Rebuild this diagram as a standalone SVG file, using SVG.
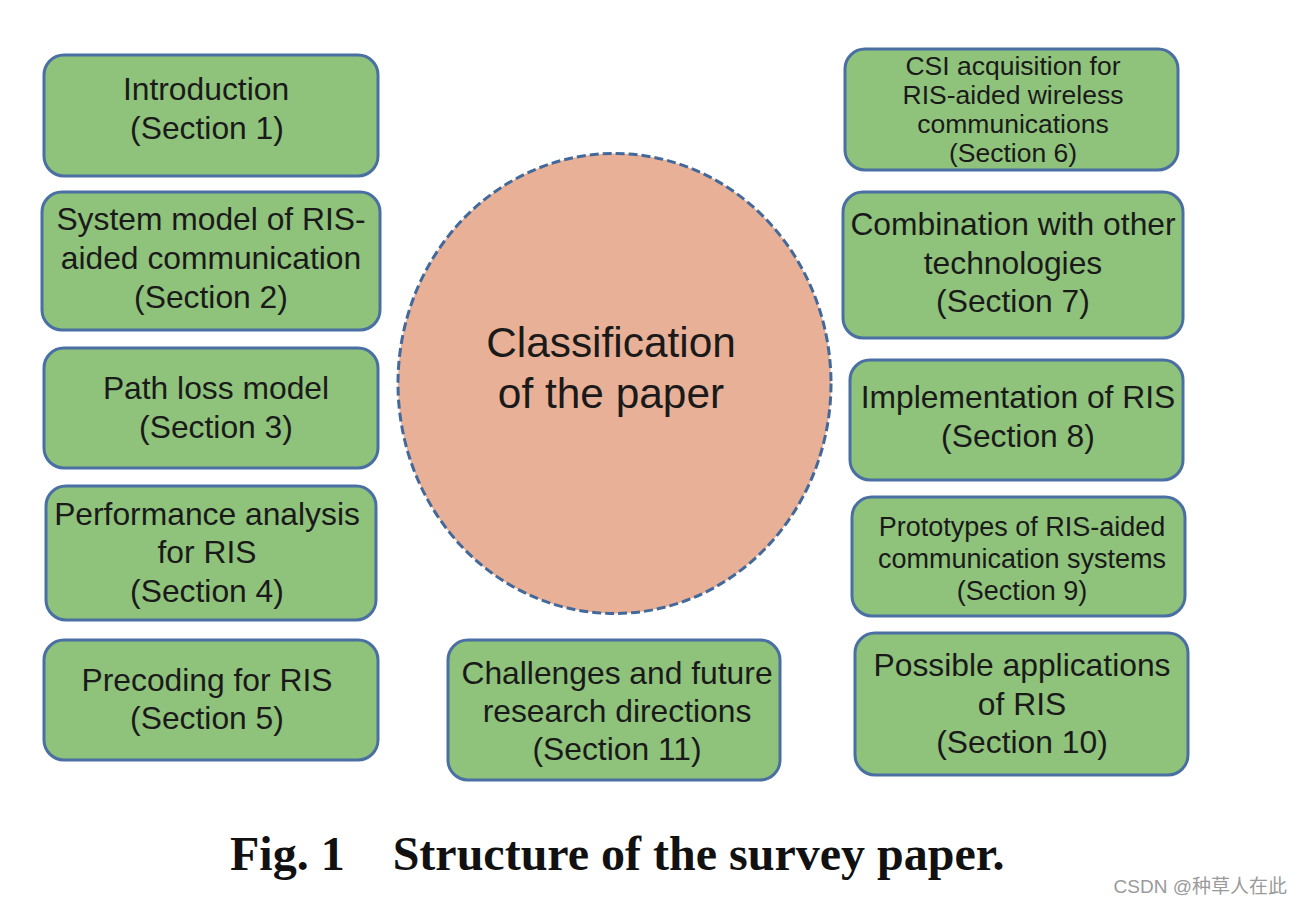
<svg xmlns="http://www.w3.org/2000/svg" width="1302" height="906" viewBox="0 0 1302 906">
<style>
.box{fill:#8fc27a;stroke:#4a6fa3;stroke-width:3}
.t{font-family:"Liberation Sans",Arial,sans-serif;font-size:31.8px;fill:#1a1a1a;text-anchor:middle}
.s{font-size:26.5px}
.m{font-size:27px}
.c{font-family:"Liberation Sans",Arial,sans-serif;font-size:42.4px;fill:#1a1a1a;text-anchor:middle}
</style>
<rect width="1302" height="906" fill="#ffffff"/>
<g id="center">
<ellipse cx="614.5" cy="383.5" rx="216.5" ry="230" fill="#e8b096" stroke="#43699b" stroke-width="3" stroke-dasharray="9,4"/>
<text class="c" x="611" y="357">Classification</text>
<text class="c" x="611" y="408">of the paper</text>
</g>
<g id="s1"><rect class="box" x="44" y="55" width="334" height="121" rx="20"/>
<text class="t" x="206" y="100">Introduction</text><text class="t" x="207" y="139">(Section 1)</text></g>
<g id="s2"><rect class="box" x="42" y="192" width="338" height="138" rx="20"/>
<text class="t" x="211" y="230">System model of RIS-</text><text class="t" x="211" y="269">aided communication</text><text class="t" x="211" y="308">(Section 2)</text></g>
<g id="s3"><rect class="box" x="44" y="348" width="334" height="120" rx="20"/>
<text class="t" x="216" y="399">Path loss model</text><text class="t" x="216" y="438">(Section 3)</text></g>
<g id="s4"><rect class="box" x="46" y="486" width="330" height="134" rx="20"/>
<text class="t" x="207" y="525">Performance analysis</text><text class="t" x="207" y="563">for RIS</text><text class="t" x="207" y="602">(Section 4)</text></g>
<g id="s5"><rect class="box" x="44" y="640" width="334" height="120" rx="20"/>
<text class="t" x="207" y="691">Precoding for RIS</text><text class="t" x="207" y="729">(Section 5)</text></g>
<g id="s6"><rect class="box" x="845" y="49" width="333" height="121" rx="20"/>
<text class="t s" x="1013" y="75">CSI acquisition for</text><text class="t s" x="1013" y="104">RIS-aided wireless</text><text class="t s" x="1013" y="133">communications</text><text class="t s" x="1013" y="162">(Section 6)</text></g>
<g id="s7"><rect class="box" x="843" y="192" width="340" height="146" rx="20"/>
<text class="t" x="1013" y="235">Combination with other</text><text class="t" x="1013" y="274">technologies</text><text class="t" x="1013" y="312">(Section 7)</text></g>
<g id="s8"><rect class="box" x="850" y="360" width="333" height="120" rx="20"/>
<text class="t" x="1018" y="408">Implementation of RIS</text><text class="t" x="1018" y="447">(Section 8)</text></g>
<g id="s9"><rect class="box" x="852" y="497" width="333" height="119" rx="20"/>
<text class="t m" x="1022" y="536">Prototypes of RIS-aided</text><text class="t m" x="1022" y="568">communication systems</text><text class="t m" x="1022" y="600">(Section 9)</text></g>
<g id="s10"><rect class="box" x="855" y="633" width="333" height="142" rx="20"/>
<text class="t" x="1022" y="676">Possible applications</text><text class="t" x="1022" y="715">of RIS</text><text class="t" x="1022" y="753">(Section 10)</text></g>
<g id="s11"><rect class="box" x="448" y="640" width="332" height="140" rx="20"/>
<text class="t" x="617" y="684">Challenges and future</text><text class="t" x="617" y="722">research directions</text><text class="t" x="617" y="760">(Section 11)</text></g>
<g id="connectors"></g>
<text x="230" y="870" font-family="'Liberation Serif','Times New Roman',serif" font-weight="bold" font-size="48" fill="#111111" xml:space="preserve">Fig. 1    Structure of the survey paper.</text>
<text x="1287" y="893" text-anchor="end" font-family="'Liberation Sans','Noto Sans CJK SC',sans-serif" font-size="19" fill="#9a9a9a">CSDN @种草人在此</text>
</svg>
